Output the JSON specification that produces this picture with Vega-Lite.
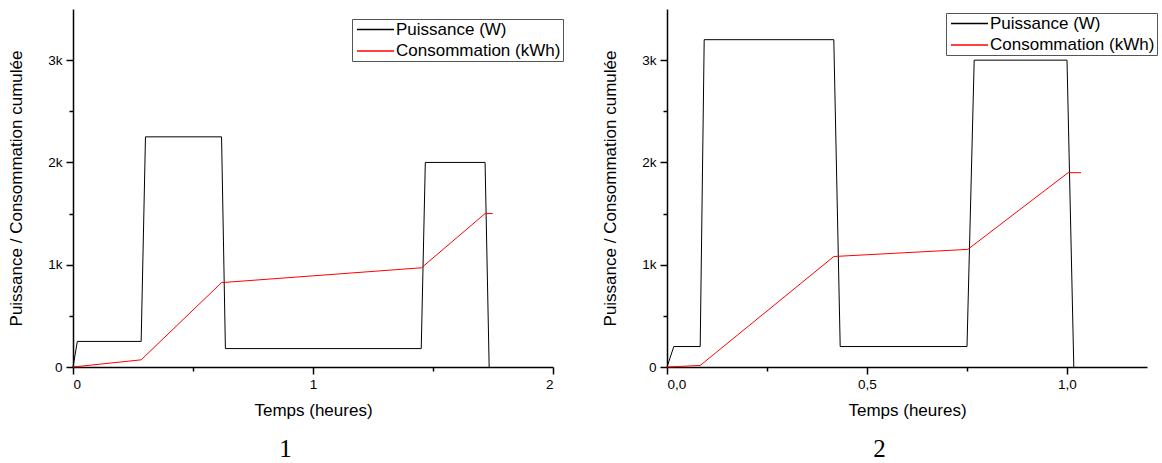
{
  "$schema": "https://vega.github.io/schema/vega-lite/v6.json",
  "padding": {"left": 7, "top": 9, "right": 0, "bottom": 0},
  "spacing": 37,
  "background": "white",
  "config": {
    "view": {"stroke": null},
    "font": "Liberation Sans",
    "axis": {
      "grid": false,
      "domainColor": "black",
      "domainWidth": 1.5,
      "tickColor": "black",
      "tickWidth": 1.5,
      "labelColor": "black",
      "labelFont": "Liberation Sans",
      "labelFontSize": 13.5,
      "titleColor": "black",
      "titleFont": "Liberation Sans",
      "titleFontSize": 17,
      "titleFontWeight": "normal"
    },
    "legend": {
      "orient": "none",
      "title": null,
      "labelFont": "Liberation Sans",
      "labelFontSize": 17,
      "labelColor": "black",
      "labelLimit": 400,
      "strokeColor": "#555555",
      "fillColor": "white",
      "padding": 2,
      "rowPadding": 3.5,
      "symbolType": "M-3,0H3",
      "symbolSize": 152,
      "symbolStrokeWidth": 1.5,
      "symbolOffset": 13,
      "labelOffset": 12
    },
    "title": {"font": "Liberation Serif", "fontSize": 25, "fontWeight": "normal", "color": "black"}
  },
  "resolve": {"scale": {"x": "independent"}, "legend": {"color": "independent"}},
  "hconcat": [
    {
      "width": 480,
      "height": 358,
      "title": {"text": "1", "orient": "bottom", "anchor": "middle", "frame": "bounds", "offset": 18},
      "data": {"values": [
        {"serie": "Puissance (W)", "t": 0, "v": 0},
        {"serie": "Puissance (W)", "t": 0.018, "v": 250},
        {"serie": "Puissance (W)", "t": 0.284, "v": 250},
        {"serie": "Puissance (W)", "t": 0.302, "v": 2250},
        {"serie": "Puissance (W)", "t": 0.619, "v": 2250},
        {"serie": "Puissance (W)", "t": 0.635, "v": 180},
        {"serie": "Puissance (W)", "t": 1.451, "v": 180},
        {"serie": "Puissance (W)", "t": 1.468, "v": 2000},
        {"serie": "Puissance (W)", "t": 1.717, "v": 2000},
        {"serie": "Puissance (W)", "t": 1.734, "v": 0},
        {"serie": "Consommation (kWh)", "t": 0, "v": 0},
        {"serie": "Consommation (kWh)", "t": 0.284, "v": 70},
        {"serie": "Consommation (kWh)", "t": 0.619, "v": 825},
        {"serie": "Consommation (kWh)", "t": 1.452, "v": 970},
        {"serie": "Consommation (kWh)", "t": 1.717, "v": 1500},
        {"serie": "Consommation (kWh)", "t": 1.749, "v": 1500}
      ]},
      "mark": {"type": "line", "strokeWidth": 1},
      "encoding": {
        "x": {
          "field": "t", "type": "quantitative",
          "scale": {"domain": [0, 2], "nice": false, "zero": false},
          "axis": {
            "title": "Temps (heures)",
            "values": [0, 0.5, 1, 1.5, 2],
            "labelExpr": "datum.value % 1 == 0 ? format(datum.value, 'd') : ''",
            "tickSize": {"condition": {"test": "datum.value % 1 != 0", "value": 4}, "value": 7},
            "labelPadding": 3,
            "titlePadding": 12
          }
        },
        "y": {
          "field": "v", "type": "quantitative",
          "scale": {"domain": [0, 3500], "nice": false},
          "axis": {
            "title": "Puissance / Consommation cumulée",
            "values": [0, 500, 1000, 1500, 2000, 2500, 3000],
            "labelExpr": "datum.value % 1000 == 0 ? (datum.value == 0 ? '0' : (datum.value / 1000) + 'k') : ''",
            "tickSize": {"condition": {"test": "datum.value % 1000 != 0", "value": 4}, "value": 7},
            "labelPadding": 4,
            "titlePadding": 22
          }
        },
        "color": {
          "field": "serie", "type": "nominal",
          "scale": {"domain": ["Puissance (W)", "Consommation (kWh)"], "range": ["#000000", "#ff0000"]},
          "legend": {"legendX": 279, "legendY": 10}
        }
      }
    },
    {
      "width": 480,
      "height": 358,
      "title": {"text": "2", "orient": "bottom", "anchor": "middle", "frame": "bounds", "offset": 18},
      "data": {"values": [
        {"serie": "Puissance (W)", "t": 0, "v": 0},
        {"serie": "Puissance (W)", "t": 0.017, "v": 200},
        {"serie": "Puissance (W)", "t": 0.083, "v": 200},
        {"serie": "Puissance (W)", "t": 0.093, "v": 3200},
        {"serie": "Puissance (W)", "t": 0.417, "v": 3200},
        {"serie": "Puissance (W)", "t": 0.433, "v": 200},
        {"serie": "Puissance (W)", "t": 0.75, "v": 200},
        {"serie": "Puissance (W)", "t": 0.768, "v": 3000},
        {"serie": "Puissance (W)", "t": 1.0, "v": 3000},
        {"serie": "Puissance (W)", "t": 1.017, "v": 0},
        {"serie": "Consommation (kWh)", "t": 0, "v": 0},
        {"serie": "Consommation (kWh)", "t": 0.083, "v": 15},
        {"serie": "Consommation (kWh)", "t": 0.417, "v": 1080},
        {"serie": "Consommation (kWh)", "t": 0.752, "v": 1150},
        {"serie": "Consommation (kWh)", "t": 1.003, "v": 1900},
        {"serie": "Consommation (kWh)", "t": 1.035, "v": 1900}
      ]},
      "mark": {"type": "line", "strokeWidth": 1},
      "encoding": {
        "x": {
          "field": "t", "type": "quantitative",
          "scale": {"domain": [0, 1.2], "nice": false, "zero": false},
          "axis": {
            "title": "Temps (heures)",
            "values": [0, 0.25, 0.5, 0.75, 1],
            "labelExpr": "(datum.value * 2) % 1 == 0 ? replace(format(datum.value, '.1f'), '.', ',') : ''",
            "tickSize": {"condition": {"test": "(datum.value * 2) % 1 != 0", "value": 4}, "value": 7},
            "labelPadding": 3,
            "titlePadding": 12
          }
        },
        "y": {
          "field": "v", "type": "quantitative",
          "scale": {"domain": [0, 3500], "nice": false},
          "axis": {
            "title": "Puissance / Consommation cumulée",
            "values": [0, 500, 1000, 1500, 2000, 2500, 3000],
            "labelExpr": "datum.value % 1000 == 0 ? (datum.value == 0 ? '0' : (datum.value / 1000) + 'k') : ''",
            "tickSize": {"condition": {"test": "datum.value % 1000 != 0", "value": 4}, "value": 7},
            "labelPadding": 4,
            "titlePadding": 22
          }
        },
        "color": {
          "field": "serie", "type": "nominal",
          "scale": {"domain": ["Puissance (W)", "Consommation (kWh)"], "range": ["#000000", "#ff0000"]},
          "legend": {"legendX": 279, "legendY": 4}
        }
      }
    }
  ]
}
